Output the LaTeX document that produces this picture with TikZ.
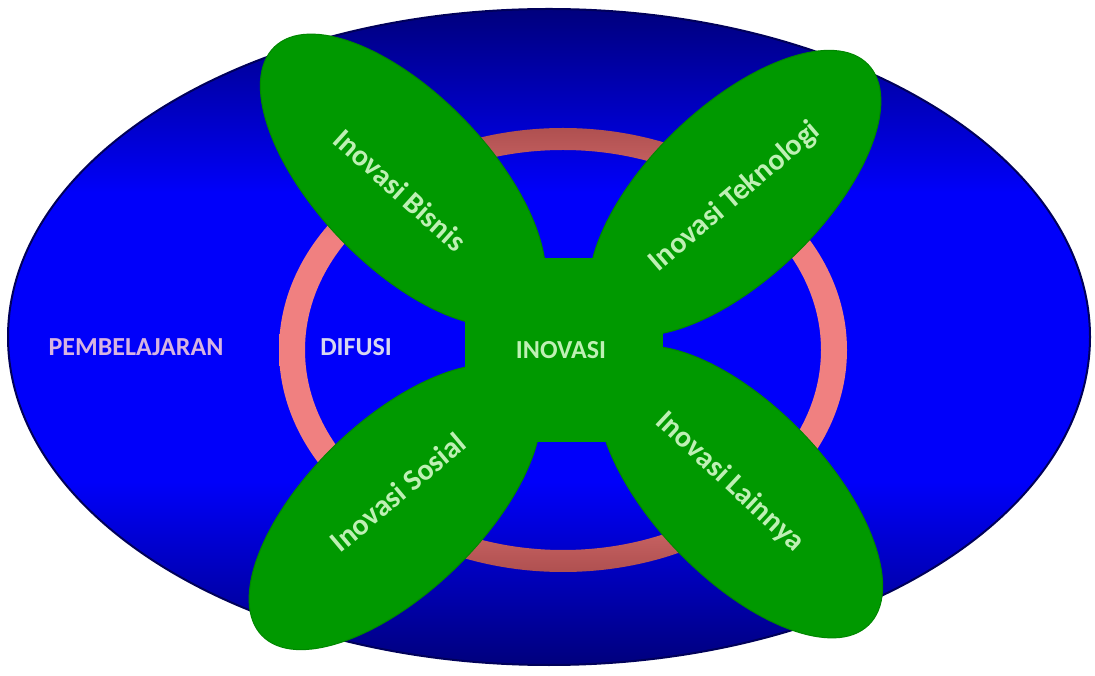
\documentclass[tikz,border=0pt]{standalone}
\usepackage{fontspec}
\setmainfont{Carlito}
\usetikzlibrary{shapes.geometric}
\definecolor{navyc}{RGB}{0,0,125}
\definecolor{rimc}{RGB}{0,0,90}
\definecolor{bluec}{RGB}{0,0,250}
\definecolor{ringdark}{RGB}{175,80,80}
\definecolor{ringpink}{RGB}{240,128,128}
\definecolor{leafgreen}{RGB}{0,153,0}
\definecolor{leafedge}{RGB}{0,135,0}
\definecolor{leaftext}{RGB}{190,240,180}
\definecolor{pembc}{RGB}{215,180,225}
\definecolor{difc}{RGB}{215,215,240}
\pgfdeclareverticalshading{bgband}{100bp}{color(0bp)=(navyc); color(25bp)=(navyc); color(39bp)=(bluec); color(61bp)=(bluec); color(75bp)=(navyc); color(100bp)=(navyc)}
\pgfdeclareverticalshading{ringband}{100bp}{color(0bp)=(ringdark); color(25bp)=(ringdark); color(37.5bp)=(ringpink); color(62.5bp)=(ringpink); color(75bp)=(ringdark); color(100bp)=(ringdark)}
\tikzset{
  leaf/.style={ellipse, fill=leafgreen, draw=leafedge, line width=1pt, inner sep=0pt, minimum width=370pt, minimum height=172pt},
  leaflabel/.style={text=leaftext, font=\bfseries\fontsize{30}{36}\selectfont, inner sep=0pt},
  midlabel/.style={font=\bfseries\fontsize{26}{31}\selectfont, inner sep=0pt}
}
\begin{document}
\begin{tikzpicture}[x=1pt,y=1pt]
\useasboundingbox (0,0) rectangle (1095,675);
\fill[white] (0,0) rectangle (1095,675);
% outer blue ellipse
\shade[shading=bgband, draw=rimc, line width=2pt] (549,338) ellipse [x radius=541pt, y radius=328pt];
% ring
\shade[shading=ringband, even odd rule] (563,325) ellipse [x radius=284pt, y radius=222pt] (563,325) ellipse [x radius=258pt, y radius=200pt];
% leaves
\node[leaf, rotate=-46] (bisnis) at (403,495) {};
\node[leaf, rotate=44] (tekno) at (735,482) {};
\node[leaf, rotate=44] (sosial) at (395,168) {};
\node[leaf, rotate=-46] (lain) at (740,183) {};
% central square
\node[fill=leafgreen, inner sep=0pt, minimum width=198pt, minimum height=184pt] (core) at (564,325) {};
% labels
\node[leaflabel, rotate=-42] (tb) at (400,485) {Inovasi Bisnis};
\node[leaflabel, rotate=40.5] (tt) at (735,478) {Inovasi Teknologi};
\node[leaflabel, rotate=40] (ts) at (398,183) {Inovasi Sosial};
\node[leaflabel, rotate=-43] (tl) at (730,193) {Inovasi Lainnya};
\node[midlabel, text=leaftext] (ino) at (561,325) {INOVASI};
\node[midlabel, text=difc] (dif) at (356,328) {DIFUSI};
\node[midlabel, text=pembc] (pem) at (136,328) {PEMBELAJARAN};
\end{tikzpicture}
\end{document}
